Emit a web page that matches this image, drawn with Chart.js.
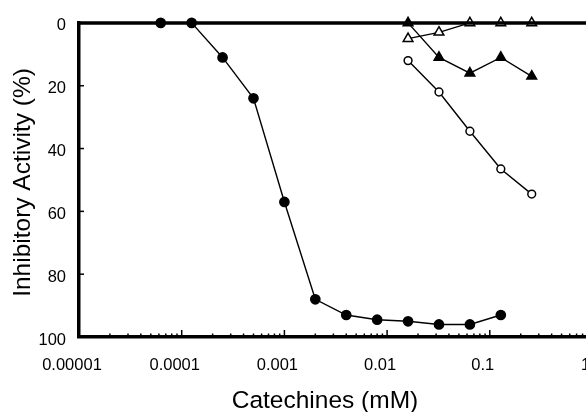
<!DOCTYPE html>
<html>

<head>
    <title>Catechines</title>
    <script src="https://cdn.jsdelivr.net/npm/chart.js"></script>
    <style>
        html, body { margin: 0; padding: 0; overflow: hidden; background: white; }
    </style>
</head>

<body>
    <canvas id="chart" width="620" height="412"></canvas>
</body>

</html>

<script>
    // concentrations (mM)
    const concA = [0.0000625, 0.000125, 0.00025, 0.0005, 0.001, 0.002, 0.004, 0.008, 0.016, 0.032, 0.064, 0.128];
    const concB = [0.016, 0.032, 0.064, 0.128, 0.256];

    // inhibitory activity (%)
    const filledCircle = [0, 0, 11, 24, 57, 88, 93, 94.5, 95, 96, 96, 93];
    const openCircle = [12, 22, 34.5, 46.5, 54.5];
    const filledTriangle = [0, 11, 16, 11, 17];
    const openTriangle = [5, 3, 0, 0, 0];

    // tick labels
    const xTickLabels = ['0.00001', '0.0001', '0.001', '0.01', '0.1', '1'];
    const yTicks = [0, 20, 40, 60, 80, 100];

    const xTitle = 'Catechines (mM)';
    const yTitle = 'Inhibitory Activity (%)';

    const pts = (xs, ys) => xs.map((x, i) => ({ x: x, y: ys[i] }));

    const font = "'Liberation Sans', Arial, Helvetica, sans-serif";

    // inward tick marks, top frame line and axis titles
    const frame = {
        id: 'frame',
        afterDraw(chart) {
            const ctx = chart.ctx;
            const area = chart.chartArea;
            const xs = chart.scales.x;
            const ys = chart.scales.y;
            ctx.save();
            ctx.strokeStyle = 'black';
            ctx.lineWidth = 1.5;
            xs.ticks.forEach(t => {
                const px = xs.getPixelForValue(t.value);
                const len = t.major ? 7 : 3.5;
                ctx.beginPath();
                ctx.moveTo(px, area.bottom);
                ctx.lineTo(px, area.bottom - len);
                ctx.stroke();
            });
            ys.ticks.forEach(t => {
                if (t.value === 0 || t.value === 100) return;
                const py = ys.getPixelForValue(t.value);
                ctx.beginPath();
                ctx.moveTo(area.left, py);
                ctx.lineTo(area.left + 5, py);
                ctx.stroke();
            });
            // top line
            ctx.lineWidth = 3.5;
            ctx.beginPath();
            ctx.moveTo(area.left - 1.7, area.top);
            ctx.lineTo(chart.width, area.top);
            ctx.stroke();

            // titles
            ctx.fillStyle = 'black';
            ctx.font = '24.5px ' + font;
            ctx.textAlign = 'center';
            ctx.textBaseline = 'alphabetic';
            ctx.fillText(xTitle, 325, 408);
            ctx.translate(30, 182.5);
            ctx.rotate(-Math.PI / 2);
            ctx.fillText(yTitle, 0, 0);
            ctx.restore();
        }
    };

    const ds = (label, data, style, radius, fill) => ({
        label: label,
        data: data,
        borderColor: 'black',
        borderWidth: 1.4,
        pointStyle: style,
        pointRadius: radius,
        pointBackgroundColor: fill,
        pointBorderColor: 'black',
        pointBorderWidth: 1.5,
        tension: 0,
        clip: false
    });

    new Chart(document.getElementById('chart'), {
        type: 'line',
        data: {
            datasets: [
                ds('filled circle', pts(concA, filledCircle), 'circle', 4.6, 'black'),
                ds('open circle', pts(concB, openCircle), 'circle', 3.9, 'white'),
                ds('filled triangle', pts(concB, filledTriangle), 'triangle', 5.6, 'black'),
                ds('open triangle', pts(concB, openTriangle), 'triangle', 5.6, 'white')
            ]
        },
        options: {
            responsive: false,
            animation: false,
            layout: { padding: { top: 19, right: 27.5, left: 0, bottom: 0 } },
            plugins: { legend: { display: false }, tooltip: { enabled: false } },
            scales: {
                x: {
                    type: 'logarithmic',
                    min: 0.00001,
                    max: 1,
                    afterFit: s => { s.height = 75; },
                    afterBuildTicks: s => {
                        const ticks = [];
                        for (let d = -5; d <= 0; d++) {
                            for (let m = 1; m <= 9; m++) {
                                if (d === 0 && m > 1) break;
                                ticks.push({ value: m * Math.pow(10, d), major: m === 1, label: m === 1 ? xTickLabels[d + 5] : '' });
                            }
                        }
                        s.ticks = ticks;
                    },
                    grid: { display: false, drawTicks: false },
                    border: { display: true, color: 'black', width: 3.5 },
                    ticks: {
                        autoSkip: false,
                        maxRotation: 0,
                        padding: 19,
                        labelOffset: -7,
                        color: 'black',
                        font: { family: font, size: 16.5 },
                        callback: function (v, i, ticks) { return ticks[i].label; }
                    }
                },
                y: {
                    reverse: true,
                    min: 0,
                    max: 100,
                    afterFit: s => { s.width = 79; },
                    afterBuildTicks: s => { s.ticks = yTicks.map(v => ({ value: v })); },
                    grid: { display: false, drawTicks: false },
                    border: { display: true, color: 'black', width: 3.5 },
                    ticks: {
                        padding: 13,
                        labelOffset: 3,
                        color: 'black',
                        font: { family: font, size: 16.5 }
                    }
                }
            }
        },
        plugins: [frame]
    });
</script>
